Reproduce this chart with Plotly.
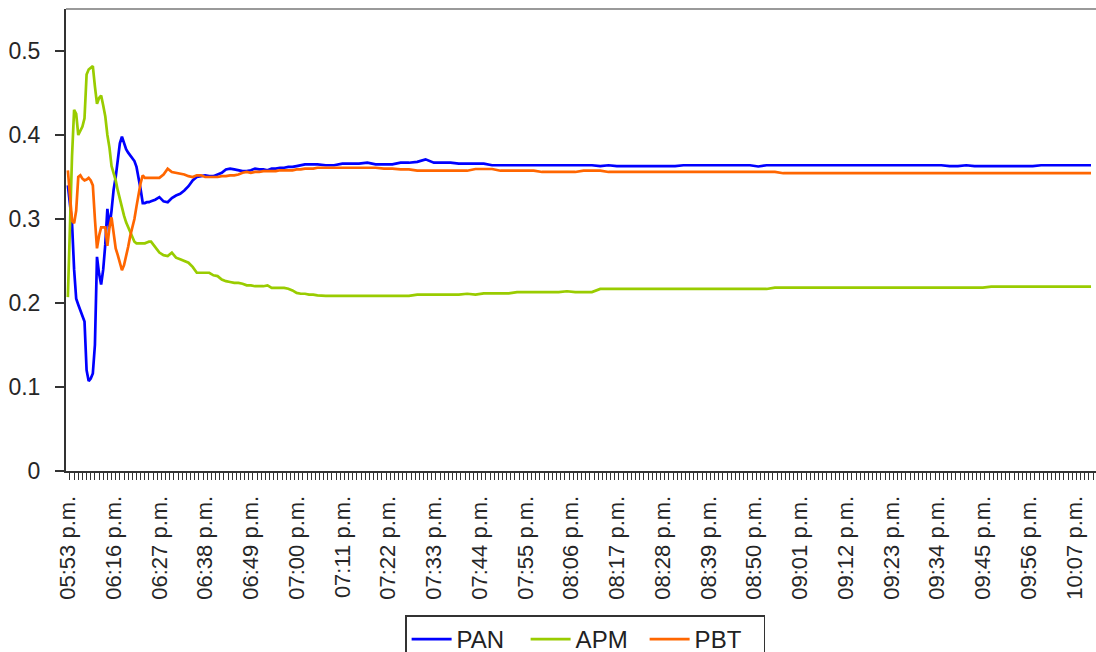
import plotly.graph_objects as go

# ---------------- data ----------------
TIME_LABELS = ["05:53 p.m.", "06:16 p.m.", "06:27 p.m.", "06:38 p.m.", "06:49 p.m.",
               "07:00 p.m.", "07:11 p.m.", "07:22 p.m.", "07:33 p.m.", "07:44 p.m.",
               "07:55 p.m.", "08:06 p.m.", "08:17 p.m.", "08:28 p.m.", "08:39 p.m.",
               "08:50 p.m.", "09:01 p.m.", "09:12 p.m.", "09:23 p.m.", "09:34 p.m.",
               "09:45 p.m.", "09:56 p.m.", "10:07 p.m."]
LABEL_EVERY = 11          # categories between two labelled times
N_CATEGORIES = 247
Y_TICKS = [0, 0.1, 0.2, 0.3, 0.4, 0.5]
Y_TICK_LABELS = ["0", "0.1", "0.2", "0.3", "0.4", "0.5"]

# sample positions (category index) of the recorded values
POS_EARLY = [k / 2 for k in range(0, 41)]        # 0 .. 20 by 0.5
POS_MID = list(range(21, 61))                    # 21 .. 60
POS_LATE = list(range(62, 247, 2))               # 62 .. 246 by 2

PAN_EARLY = [0.340, 0.320, 0.295, 0.240, 0.205, 0.198, 0.192, 0.186, 0.178, 0.120,
             0.107, 0.110, 0.116, 0.150, 0.255, 0.235, 0.222, 0.240, 0.270, 0.312,
             0.290, 0.310, 0.335, 0.350, 0.370, 0.390, 0.398, 0.390, 0.383, 0.379,
             0.376, 0.372, 0.369, 0.362, 0.350, 0.335, 0.319, 0.319, 0.320, 0.320, 0.321]
PAN_MID = [0.323, 0.326, 0.321, 0.320, 0.325, 0.328, 0.330, 0.334, 0.339, 0.346,
           0.350, 0.351, 0.352, 0.351, 0.351, 0.353, 0.355, 0.359, 0.360, 0.359,
           0.358, 0.357, 0.357, 0.358, 0.360, 0.359, 0.359, 0.358, 0.360, 0.360,
           0.361, 0.361, 0.362, 0.362, 0.363, 0.364, 0.365, 0.365, 0.365, 0.365]
PAN_LATE = [0.364, 0.364, 0.366, 0.366, 0.366, 0.367, 0.365, 0.365, 0.365, 0.367,
            0.367, 0.368, 0.371, 0.367, 0.367, 0.367, 0.366, 0.366, 0.366, 0.366,
            0.364, 0.364, 0.364, 0.364, 0.364, 0.364, 0.364, 0.364, 0.364, 0.364,
            0.364, 0.364, 0.364, 0.363, 0.364, 0.363, 0.363, 0.363, 0.363, 0.363,
            0.363, 0.363, 0.363, 0.364, 0.364, 0.364, 0.364, 0.364, 0.364, 0.364,
            0.364, 0.364, 0.3625, 0.364, 0.364, 0.364, 0.364, 0.364, 0.364, 0.364,
            0.364, 0.364, 0.364, 0.364, 0.364, 0.364, 0.364, 0.364, 0.364, 0.364,
            0.364, 0.364, 0.364, 0.364, 0.364, 0.363, 0.363, 0.364, 0.363, 0.363,
            0.363, 0.363, 0.363, 0.363, 0.363, 0.363, 0.364, 0.364, 0.364, 0.364,
            0.364, 0.364, 0.364]

APM_EARLY = [0.207, 0.300, 0.375, 0.430, 0.425, 0.400, 0.405, 0.410, 0.420, 0.472,
             0.478, 0.480, 0.482, 0.458, 0.437, 0.444, 0.447, 0.435, 0.422, 0.400,
             0.385, 0.363, 0.355, 0.346, 0.334, 0.323, 0.312, 0.304, 0.296, 0.290,
             0.283, 0.277, 0.273, 0.271, 0.271, 0.271, 0.271, 0.271, 0.272, 0.273, 0.273]
APM_MID = [0.266, 0.260, 0.257, 0.256, 0.260, 0.254, 0.252, 0.250, 0.248, 0.243,
           0.236, 0.236, 0.236, 0.236, 0.233, 0.232, 0.228, 0.226, 0.225, 0.224,
           0.224, 0.223, 0.221, 0.221, 0.220, 0.220, 0.220, 0.221, 0.218, 0.218,
           0.218, 0.218, 0.217, 0.215, 0.212, 0.211, 0.211, 0.210, 0.210, 0.209]
APM_LATE = [0.2085, 0.2085, 0.2085, 0.2085, 0.2085, 0.2085, 0.2085, 0.2085, 0.2085, 0.2085,
            0.2085, 0.210, 0.210, 0.210, 0.210, 0.210, 0.210, 0.211, 0.210, 0.2115,
            0.2115, 0.2115, 0.2115, 0.213, 0.213, 0.213, 0.213, 0.213, 0.213, 0.214,
            0.213, 0.213, 0.213, 0.2167, 0.2167, 0.2167, 0.2167, 0.2167, 0.2167, 0.2167,
            0.2167, 0.2167, 0.2167, 0.2167, 0.2167, 0.2167, 0.2167, 0.2167, 0.2167, 0.2167,
            0.2167, 0.2167, 0.2167, 0.2167, 0.2183, 0.2183, 0.2183, 0.2183, 0.2183, 0.2183,
            0.2183, 0.2183, 0.2183, 0.2183, 0.2183, 0.2183, 0.2183, 0.2183, 0.2183, 0.2183,
            0.2183, 0.2183, 0.2183, 0.2183, 0.2183, 0.2183, 0.2183, 0.2183, 0.2183, 0.2183,
            0.2195, 0.2195, 0.2195, 0.2195, 0.2195, 0.2195, 0.2195, 0.2195, 0.2195, 0.2195,
            0.2195, 0.2195, 0.2195]

PBT_EARLY = [0.358, 0.330, 0.298, 0.295, 0.310, 0.350, 0.352, 0.348, 0.346, 0.347,
             0.349, 0.346, 0.340, 0.300, 0.265, 0.280, 0.290, 0.290, 0.290, 0.268,
             0.290, 0.302, 0.283, 0.265, 0.257, 0.248, 0.239, 0.245, 0.255, 0.267,
             0.280, 0.290, 0.300, 0.315, 0.330, 0.343, 0.352, 0.349, 0.349, 0.349, 0.349]
PBT_MID = [0.349, 0.349, 0.353, 0.360, 0.356, 0.355, 0.354, 0.353, 0.351, 0.350,
           0.352, 0.352, 0.350, 0.350, 0.350, 0.350, 0.351, 0.351, 0.352, 0.352,
           0.353, 0.355, 0.356, 0.355, 0.356, 0.356, 0.357, 0.357, 0.357, 0.357,
           0.358, 0.358, 0.358, 0.358, 0.359, 0.359, 0.360, 0.360, 0.360, 0.361]
PBT_LATE = [0.361, 0.361, 0.361, 0.361, 0.361, 0.361, 0.361, 0.360, 0.360, 0.359,
            0.359, 0.3575, 0.3575, 0.3575, 0.3575, 0.3575, 0.3575, 0.3575, 0.3595, 0.3595,
            0.3595, 0.3575, 0.3575, 0.3575, 0.3575, 0.3575, 0.356, 0.356, 0.356, 0.356,
            0.356, 0.3575, 0.3575, 0.3575, 0.356, 0.356, 0.356, 0.356, 0.356, 0.356,
            0.356, 0.356, 0.356, 0.356, 0.356, 0.356, 0.356, 0.356, 0.356, 0.356,
            0.356, 0.356, 0.356, 0.356, 0.356, 0.3545, 0.3545, 0.3545, 0.3545, 0.3545,
            0.3545, 0.3545, 0.3545, 0.3545, 0.3545, 0.3545, 0.3545, 0.3545, 0.3545, 0.3545,
            0.3545, 0.3545, 0.3545, 0.3545, 0.3545, 0.3545, 0.3545, 0.3545, 0.3545, 0.3545,
            0.3545, 0.3545, 0.3545, 0.3545, 0.3545, 0.3545, 0.3545, 0.3545, 0.3545, 0.3545,
            0.3545, 0.3545, 0.3545]

SERIES = [("PAN", PAN_EARLY + PAN_MID + PAN_LATE, "#0000FF"),
          ("APM", APM_EARLY + APM_MID + APM_LATE, "#99CC00"),
          ("PBT", PBT_EARLY + PBT_MID + PBT_LATE, "#FF6600")]

# ---------------- figure ----------------
positions = POS_EARLY + POS_MID + POS_LATE
FONT = "Arial, 'Liberation Sans', sans-serif"
TEXT = "#262626"

fig = go.Figure()
for name, vals, color in SERIES:
    assert len(vals) == len(positions), name
    fig.add_trace(go.Scatter(x=positions, y=vals, name=name, mode="lines",
                             line=dict(color=color, width=2.7)))

tickvals = [i * LABEL_EVERY for i in range(len(TIME_LABELS))]

fig.update_layout(
    width=1096, height=652,
    margin=dict(l=66, r=0, t=9, b=181),
    paper_bgcolor="white", plot_bgcolor="white",
    font=dict(family=FONT, size=22, color=TEXT),
    showlegend=True,
    legend=dict(orientation="h", x=0.504, xanchor="center",
                yref="container", y=0.056, yanchor="top",
                bordercolor="#333333", borderwidth=1.5, bgcolor="white",
                font=dict(size=24, color="#222222"),
                entrywidth=64, entrywidthmode="pixels",
                itemwidth=40, tracegroupgap=0),
    xaxis=dict(range=[-0.45, N_CATEGORIES + 0.2], showgrid=False, zeroline=False,
               automargin=False,
               showline=True, linecolor="#333333", linewidth=2,
               tickmode="array", tickvals=tickvals, ticktext=TIME_LABELS,
               tickangle=-90, ticks="", ticklabelstandoff=14,
               tickfont=dict(size=22, color=TEXT),
               minor=dict(ticks="outside", tickmode="linear", tick0=-0.5, dtick=1,
                          ticklen=7, tickcolor="#333333", tickwidth=1)),
    yaxis=dict(range=[0, 0.55], showgrid=False, zeroline=False,
               automargin=False,
               tickmode="array", tickvals=Y_TICKS, ticktext=Y_TICK_LABELS,
               showline=True, linecolor="#333333", linewidth=2,
               ticks="outside", ticklen=9, tickcolor="#333333", tickwidth=1.5,
               ticklabelstandoff=10,
               tickfont=dict(size=23, color=TEXT)),
    shapes=[dict(type="line", xref="paper", yref="paper", x0=0, x1=1, y0=1, y1=1,
                 line=dict(color="#9a9a9a", width=2))],
)

fig.write_html("out.html",
               config={"displayModeBar": False},
               post_script="document.body.style.margin='0px';"
                           "document.body.style.overflow='hidden';")
